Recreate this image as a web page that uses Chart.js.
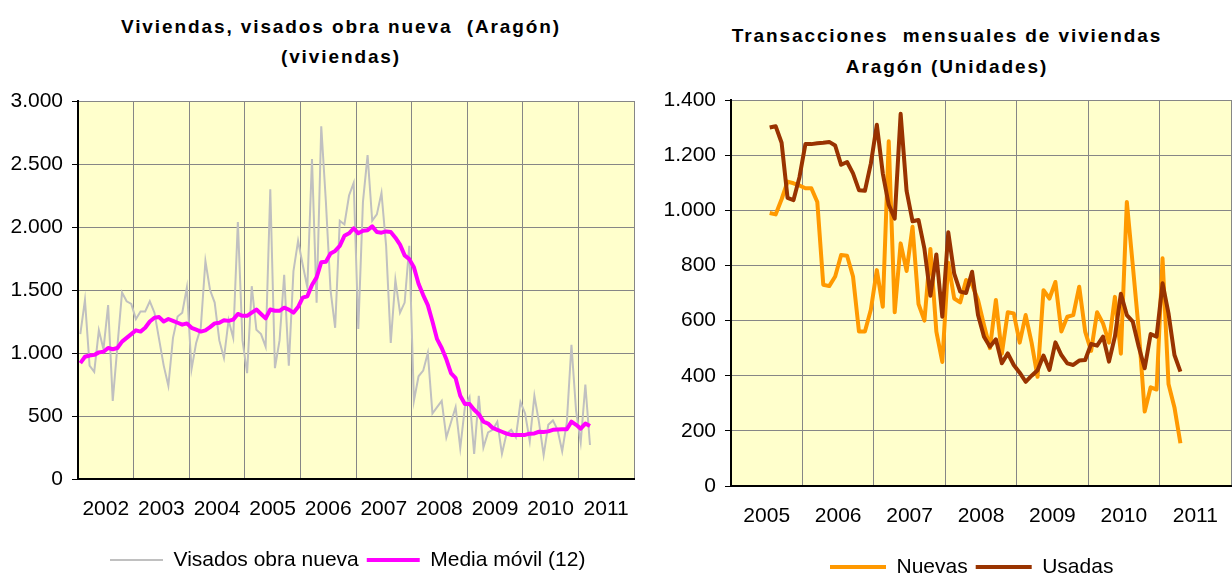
<!DOCTYPE html>
<html lang="es">
<head>
  <meta charset="UTF-8">
  <title>Viviendas Aragón</title>
  <script src="https://cdn.jsdelivr.net/npm/chart.js"></script>
  <style>
    body { margin: 0; width: 1232px; height: 576px; overflow: hidden; background: #fff; position: relative; }
    .titulo { position: absolute; width: 600px; text-align: center; font: bold 19px "Liberation Sans", Arial, sans-serif; letter-spacing: 1.9px; color: #000; white-space: pre; }
    canvas { position: absolute; top: 0; }
  </style>
</head>
<body>
<div class="titulo" style="left:41px; top:12px; line-height:30px;">Viviendas, visados obra nueva  (Aragón)
(viviendas)</div>
<div class="titulo" style="left:647px; top:20px; line-height:31px;">Transacciones  mensuales de viviendas
Aragón (Unidades)</div>
<canvas id="visadosChart" width="640" height="576" style="left:0"></canvas>
<canvas id="transaccionesChart" width="592" height="576" style="left:640px"></canvas>

<script>
  // visados de obra nueva, mensual desde enero 2002
  const visados = [
    1150, 1420, 900, 850, 1180, 1030, 1380, 620, 1050, 1480, 1410, 1390,
    1270, 1330, 1330, 1410, 1320, 1110, 900, 740, 1120, 1290, 1320, 1520,
    870, 1080, 1200, 1730, 1500, 1400, 1100, 960, 1260, 1120, 2040, 1100,
    840, 1530, 1185, 1150, 1050, 2300, 880, 1100, 1620, 900, 1650, 1890,
    1700, 1520, 2540, 1400, 2800, 2200, 1500, 1200, 2050, 2020, 2250, 2350,
    1190, 2200, 2570, 2050, 2100, 2270, 1850, 1080, 1580, 1320, 1400, 1850,
    620, 815, 860, 1000, 520, 570, 620, 330, 450, 570, 245, 570,
    650, 200, 660, 250, 370, 390, 455, 200, 360, 390, 330, 610,
    520, 300, 660, 450, 190, 430, 465, 390, 220, 450, 1065, 540,
    290, 750, 270
  ];
  const mediaMovil = [
    920, 970, 980, 985, 1005, 1010, 1040, 1030, 1040, 1090, 1120, 1150,
    1180, 1170, 1200, 1250, 1280, 1285, 1250, 1270, 1255, 1240, 1225, 1235,
    1200, 1185, 1170, 1180, 1205, 1235, 1240, 1260, 1255, 1265, 1310, 1295,
    1295, 1320, 1345, 1310, 1275, 1345, 1335, 1335, 1360, 1345, 1320, 1365,
    1440, 1450, 1540, 1600, 1720, 1725, 1790, 1810, 1850, 1930, 1950, 1990,
    1950, 1970, 1975, 2005, 1960, 1955, 1965, 1960, 1915, 1860, 1775, 1745,
    1680, 1550, 1460, 1380, 1250, 1110, 1040, 950, 840, 800, 660, 595,
    595, 550, 515, 455, 440, 405, 390, 375, 360, 350, 350, 350,
    350, 360, 362, 375, 373, 378, 390, 393, 395, 395, 455, 430,
    400, 440, 420
  ];
  const aniosVisados = [2002, 2003, 2004, 2005, 2006, 2007, 2008, 2009, 2010, 2011];

  // transacciones mensuales, desde julio 2005
  const nuevas = [
    990, 985, 1040, 1104, 1098, 1090,
    1080, 1080, 1030, 730, 725, 760, 838, 835, 760, 560, 560, 640,
    783, 650, 1250, 630, 880, 780, 940, 660, 600, 860, 560, 450,
    810, 680, 666, 747, 730, 675, 584, 500, 675, 480, 630, 626,
    520, 620, 520, 396, 710, 680, 740, 560, 614, 620, 723, 560,
    490, 630, 590, 520, 686, 480, 1030, 800, 566, 270, 358, 350,
    826, 370, 285, 155
  ];
  const usadas = [
    1300, 1305, 1245, 1045, 1037, 1120,
    1240, 1240, 1243, 1245, 1248, 1235, 1165, 1175, 1134, 1073, 1071, 1170,
    1310, 1134, 1020, 970, 1350, 1070, 960, 965, 860, 690, 840, 614,
    920, 770, 705, 700, 777, 620, 541, 505, 532, 445, 481, 439,
    411, 378, 400, 420, 473, 421, 521, 475, 445, 439, 455, 457,
    515, 509, 542, 451, 542, 697, 620, 596, 505, 427, 551, 542,
    735, 626, 475, 415
  ];
  const aniosTransacciones = [2005, 2006, 2007, 2008, 2009, 2010, 2011];

  // month index -> position on a year axis (middle of the month)
  const puntos = (valores, anio, mes) => valores.map((v, i) => ({ x: anio + (mes + i + 0.5) / 12, y: v }));
  const miles = v => String(v).replace(/\B(?=(\d{3})+(?!\d))/g, '.');

  Chart.defaults.font.family = '"Liberation Sans", Arial, sans-serif';
  Chart.defaults.font.size = 21;
  Chart.defaults.color = '#000';

  const plotBg = {
    id: 'plotBg',
    beforeDraw(chart, args, opts) {
      const { ctx, chartArea: a } = chart;
      ctx.save();
      ctx.fillStyle = opts.color;
      ctx.fillRect(a.left, a.top, a.right - a.left, a.bottom - a.top);
      ctx.restore();
    }
  };
  // move the legend where the original had it
  const nudgeLegend = {
    id: 'nudgeLegend',
    afterLayout(chart, args, opts) {
      const l = chart.legend;
      if (!l) return;
      l.left += opts.dx; l.right += opts.dx;
      l.top += opts.dy; l.bottom += opts.dy;
    }
  };

  function opciones(anios, yMax, yStep, pad, yWidth, legendDx) {
    const grid = '#868686';
    return {
      responsive: false,
      animation: false,
      layout: { padding: pad },
      scales: {
        x: {
          type: 'linear',
          min: anios[0],
          max: anios[anios.length - 1] + 1,
          afterFit: s => { s.height = 50; s.paddingLeft = 0; s.paddingRight = 0; },
          ticks: {
            stepSize: 1, autoSkip: false, maxRotation: 0, padding: 18,
            labelOffset: 0,
            callback: v => anios.includes(v) ? String(v) : ''
          },
          grid: { color: grid, drawTicks: false },
          border: { color: '#000', width: 2 }
        },
        y: {
          min: 0, max: yMax,
          afterFit: s => { s.width = yWidth; },
          ticks: { stepSize: yStep, padding: 9, callback: miles },
          grid: { color: grid, tickColor: '#000', tickLength: 6 },
          border: { color: '#000', width: 2 }
        }
      },
      plugins: {
        plotBg: { color: '#FFFFCC' },
        nudgeLegend: { dx: legendDx, dy: 12.5 },
        tooltip: { enabled: false },
        legend: {
          position: 'bottom',
          align: 'start',
          labels: {
            usePointStyle: true,
            pointStyle: 'line',
            pointStyleWidth: 53,
            padding: 8,
            sort: (a, b) => a.datasetIndex - b.datasetIndex
          }
        }
      }
    };
  }

  const optVisados = opciones(aniosVisados, 3000, 500, { top: 101, bottom: 8, left: 0, right: 6 }, 78, 102);
  optVisados.scales.x.ticks.labelOffset = 556 / aniosVisados.length / 2;

  new Chart(document.getElementById('visadosChart'), {
    type: 'line',
    data: {
      datasets: [
        {
          label: 'Visados obra nueva',
          data: puntos(visados, 2002, 0),
          borderColor: '#C0C0C0',
          borderWidth: 2,
          pointRadius: 0,
          order: 1
        },
        {
          label: 'Media móvil (12)',
          data: puntos(mediaMovil, 2002, 0),
          borderColor: '#FF00FF',
          borderWidth: 4,
          borderJoinStyle: 'round',
          pointRadius: 0,
          order: 0
        }
      ]
    },
    options: optVisados,
    plugins: [plotBg, nudgeLegend]
  });

  const optTrans = opciones(aniosTransacciones, 1400, 200, { top: 100, bottom: 1, left: 0, right: 1 }, 91, 182);
  optTrans.scales.x.ticks.labelOffset = 500 / aniosTransacciones.length / 2;
  optTrans.plugins.legend.labels.pointStyleWidth = 56;

  new Chart(document.getElementById('transaccionesChart'), {
    type: 'line',
    data: {
      datasets: [
        {
          label: 'Nuevas',
          data: puntos(nuevas, 2005, 6),
          borderColor: '#FF9900',
          borderWidth: 4,
          borderJoinStyle: 'round',
          pointRadius: 0,
          order: 1
        },
        {
          label: 'Usadas',
          data: puntos(usadas, 2005, 6),
          borderColor: '#993300',
          borderWidth: 4,
          borderJoinStyle: 'round',
          pointRadius: 0,
          order: 0
        }
      ]
    },
    options: optTrans,
    plugins: [plotBg, nudgeLegend]
  });
</script>
</body>
</html>
